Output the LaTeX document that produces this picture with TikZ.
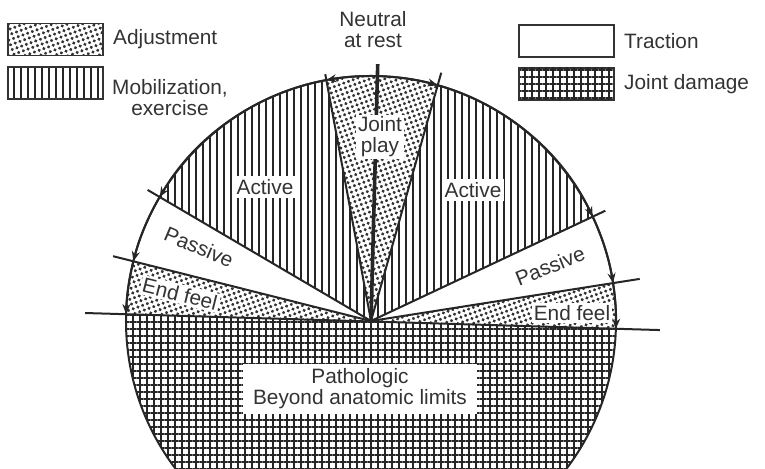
\documentclass[tikz,border=0pt]{standalone}
\usepackage{fontspec}
\setmainfont{Liberation Sans}
\usetikzlibrary{arrows.meta, patterns.meta, positioning}

\newcommand{\rad}{245}

\begin{document}
\begin{tikzpicture}[
    x=0.5pt, y=0.5pt,
    every node/.style={font=\fontsize{10.4}{10.5}\selectfont, text=black!80, inner sep=1.5pt},
    lbl/.style={fill=white, align=center},
    legendbox/.style={draw=black!80, line width=0.8pt, minimum width=47.5pt, minimum height=16pt, inner sep=0pt},
    dotfill/.style={pattern={Dots[distance=2.5pt, radius=0.85pt, angle=20]}, pattern color=black!80},
    linefill/.style={pattern={Lines[angle=90, distance=3.5pt, line width=0.7pt]}, pattern color=black!85},
    gridfill/.style={pattern={Lines[angle=0, distance=3.5pt, line width=0.6pt]}, pattern color=black!85,
        postaction={pattern={Lines[angle=90, distance=3.5pt, line width=0.6pt]}, pattern color=black!85}},
    bound/.style={line width=1pt, color=black!85},
    rangearrow/.style={line width=1pt, color=black!85, -{Stealth[length=5pt, width=4pt]}}
]
\useasboundingbox (-371,-148) rectangle (394,321);

% sectors
\fill[dotfill] (0,0) -- (74.2:\rad) arc[start angle=74.2, end angle=100.5, radius=\rad] -- cycle;
\fill[linefill] (0,0) -- (100.5:\rad) arc[start angle=100.5, end angle=149.6, radius=\rad] -- cycle;
\fill[dotfill] (0,0) -- (165.9:\rad) arc[start angle=165.9, end angle=178.4, radius=\rad] -- cycle;
\fill[gridfill] (0,0) -- (178.4:\rad) arc[start angle=178.4, end angle=358.2, radius=\rad] -- cycle;
\fill[dotfill] (0,0) -- (-1.8:\rad) arc[start angle=-1.8, end angle=8.9, radius=\rad] -- cycle;
\fill[linefill] (0,0) -- (25.2:\rad) arc[start angle=25.2, end angle=74.2, radius=\rad] -- cycle;

% outline and boundaries
\draw[bound] (0,0) circle[radius=\rad];
\draw[bound] (178.4:286) -- (-1.8:289);
\draw[bound] (0,0) -- (100.5:251);
\draw[bound] (0,0) -- (74.2:258);
\draw[bound] (0,0) -- (149.6:259);
\draw[bound] (0,0) -- (165.9:266);
\draw[bound] (0,0) -- (25.2:259);
\draw[bound] (0,0) -- (8.9:272);
\draw[bound, line width=1.8pt] (0,0) -- (88.5:257);

% range arrows along the rim
\draw[rangearrow] (88.5:\rad) arc[start angle=88.5, end angle=100.5, radius=\rad];
\draw[rangearrow] (100.5:\rad) arc[start angle=100.5, end angle=149.6, radius=\rad];
\draw[rangearrow] (149.6:\rad) arc[start angle=149.6, end angle=165.9, radius=\rad];
\draw[rangearrow] (165.9:\rad) arc[start angle=165.9, end angle=178.4, radius=\rad];
\draw[rangearrow] (88.5:\rad) arc[start angle=88.5, end angle=74.2, radius=\rad];
\draw[rangearrow] (74.2:\rad) arc[start angle=74.2, end angle=25.2, radius=\rad];
\draw[rangearrow] (25.2:\rad) arc[start angle=25.2, end angle=8.9, radius=\rad];
\draw[rangearrow] (8.9:\rad) arc[start angle=8.9, end angle=-1.8, radius=\rad];

% labels in the circle
\node (jointplay) [lbl, inner sep=1pt] at (9,184) {Joint\\play};
\node (activeL) [lbl] at (-106,134) {Active};
\node (activeR) [lbl] at (102,131) {Active};
\node (passiveL) [lbl, rotate=-23] at (-172,74) {Passive};
\node (passiveR) [lbl, rotate=22] at (179,55) {Passive};
\node (endfeelL) [lbl, inner sep=1pt, rotate=-14] at (-191,27) {End feel};
\node (endfeelR) [lbl, inner sep=1pt] at (201,8) {End feel};
\node (patho) [lbl, inner xsep=5pt, inner ysep=2.5pt] at (-11,-68) {Pathologic\\Beyond anatomic limits};
\node (neutral) [align=center] at (2,291) {Neutral\\at rest};

% legend
\node (adjbox) [legendbox, dotfill] at (-315.5,281.5) {};
\node (adjtext) [right=3pt of adjbox] {Adjustment};
\node (mobbox) [legendbox, linefill] at (-315.5,238) {};
\node (mobtext) [align=center] at (-201,223) {Mobilization,\\exercise};
\node (tracbox) [legendbox] at (195.5,280) {};
\node (tractext) [right=3pt of tracbox] {Traction};
\node (dambox) [legendbox, gridfill] at (195.5,237) {};
\node (damtext) [right=3pt of dambox] {Joint damage};

\end{tikzpicture}
\end{document}
